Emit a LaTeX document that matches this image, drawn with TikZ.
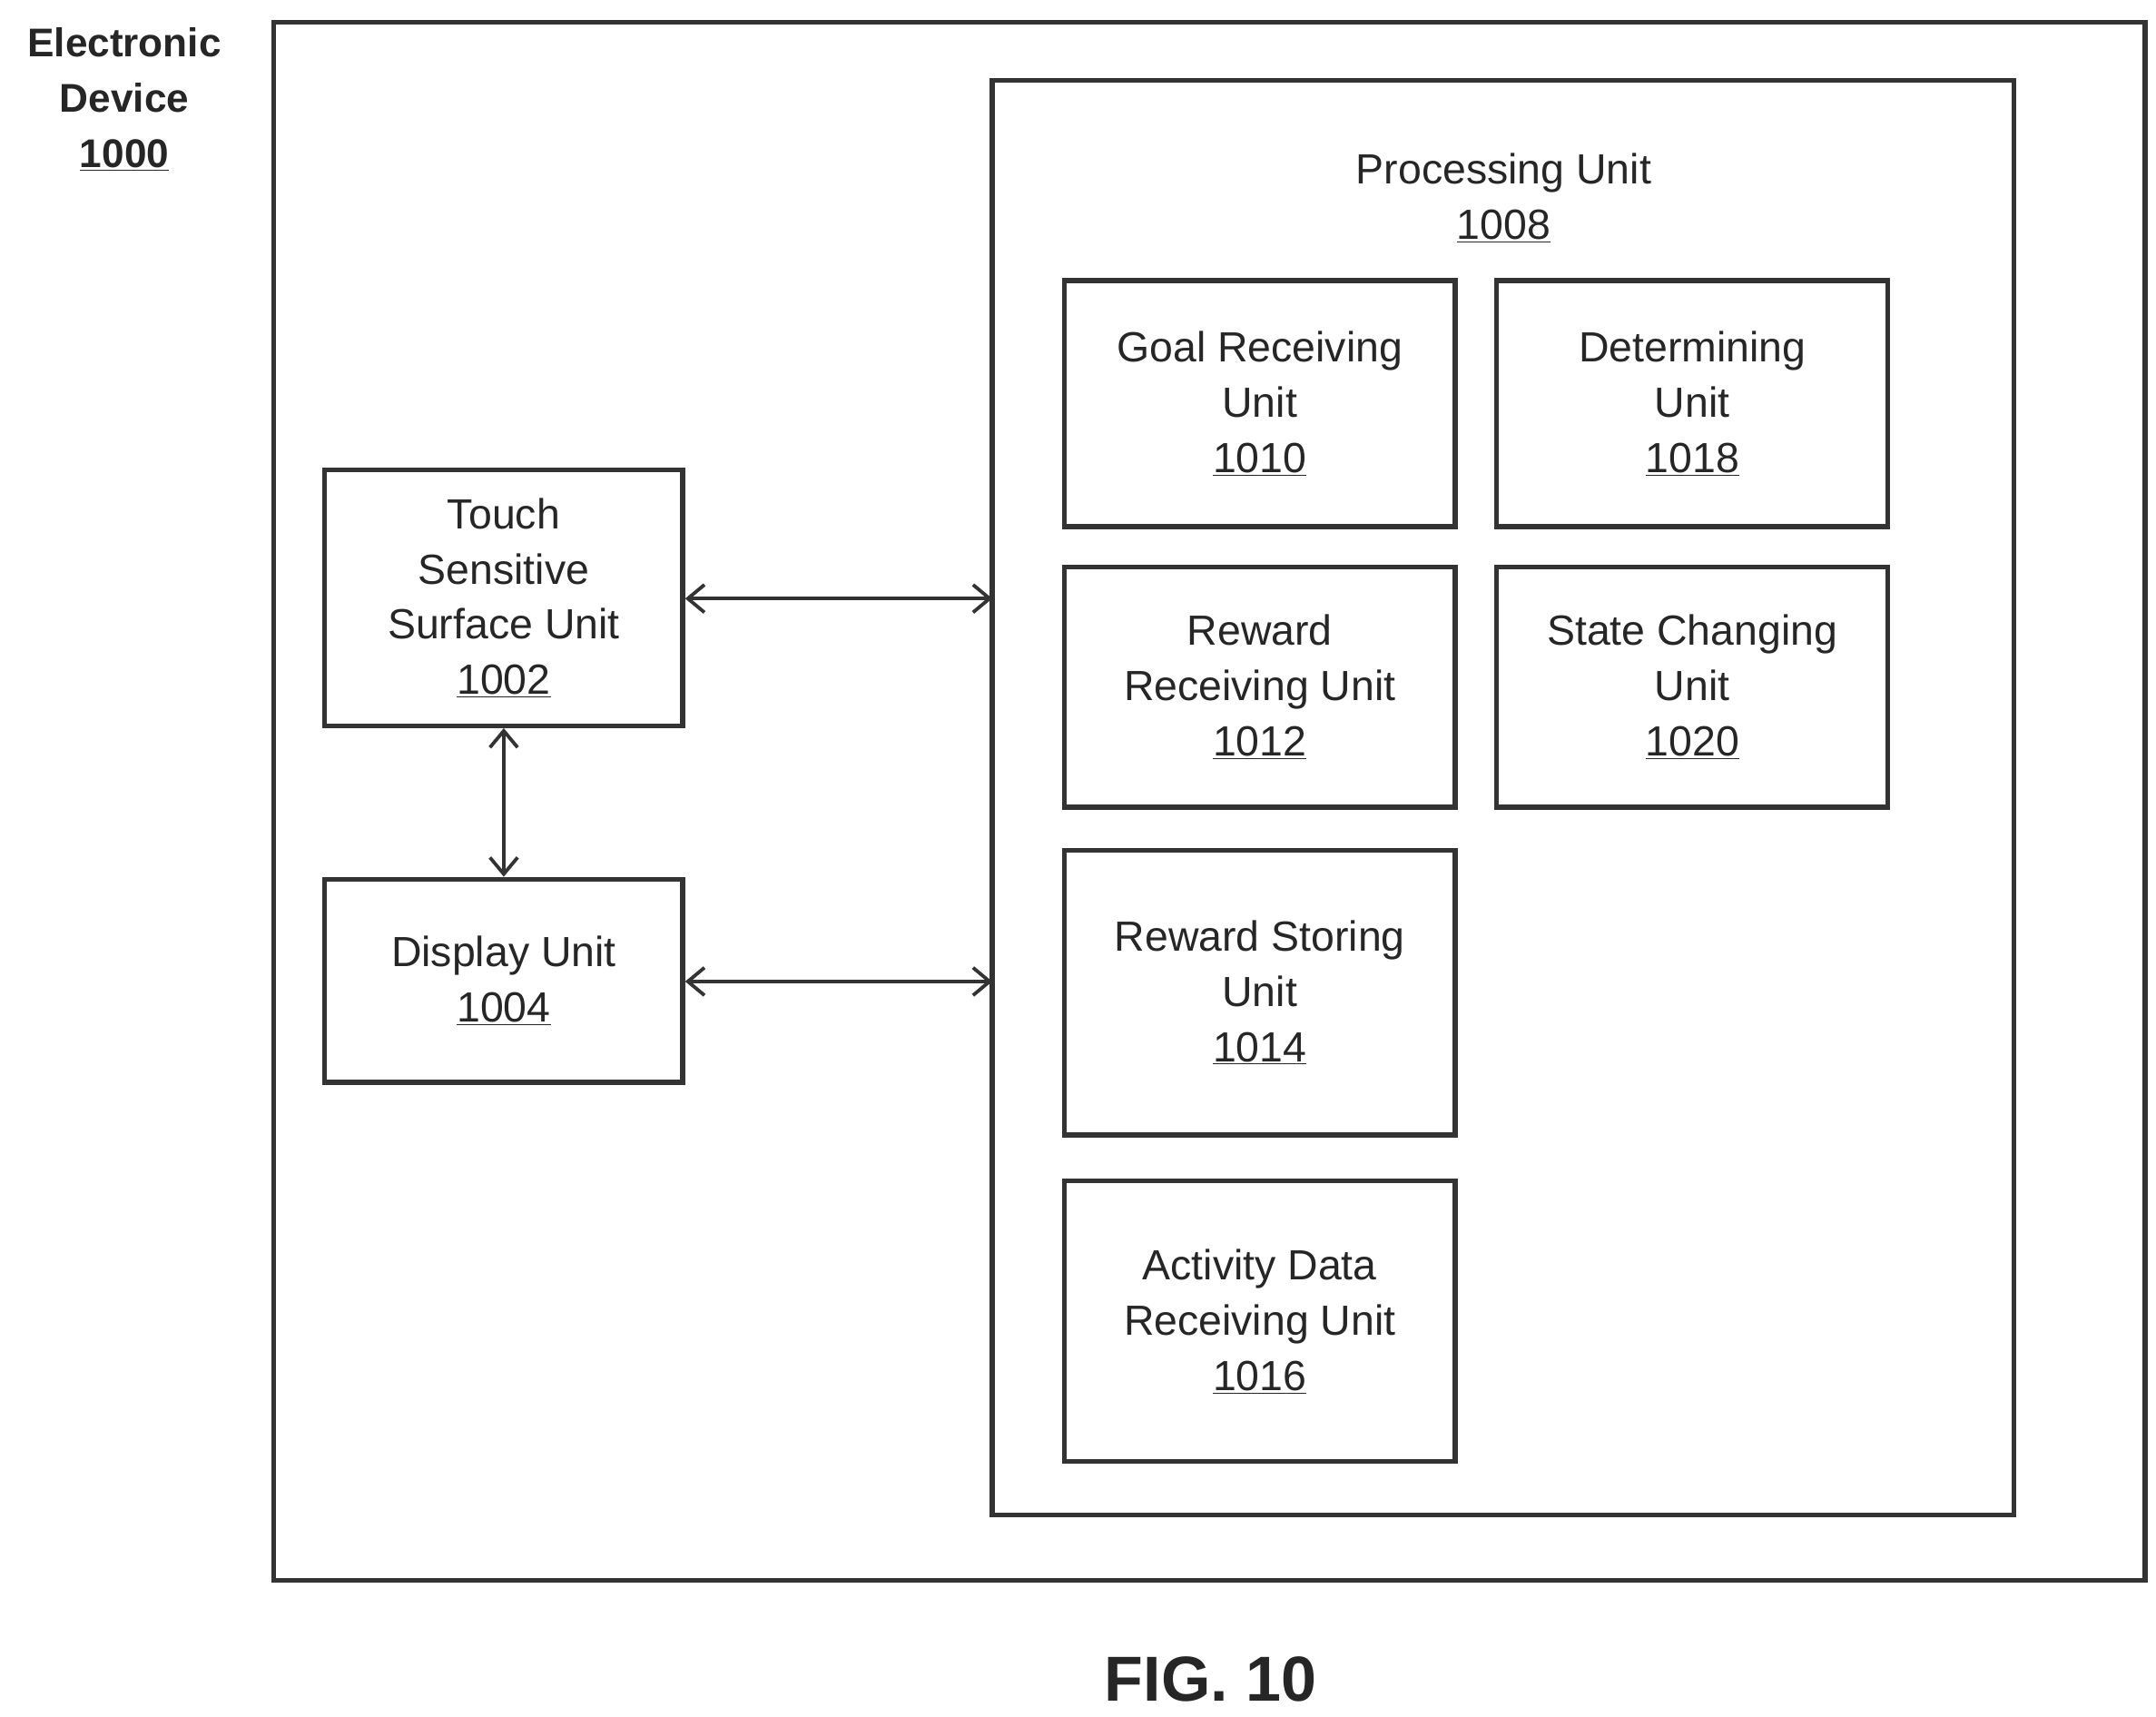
\documentclass[tikz,border=0pt]{standalone}
\usepackage{fontspec}
\setmainfont{Liberation Sans}
\begin{document}
\begin{tikzpicture}[x=1pt,y=-1pt,
  bx/.style={draw=black!80,line width=3.5pt},
  lab/.style={font=\fontsize{30.5}{40}\selectfont,align=center,text=black!85},
  arr/.style={draw=black!80,line width=2.5pt,<->,>={Straight Barb[length=12pt,width=20pt]}}]
\usetikzlibrary{arrows.meta}
\useasboundingbox (0,0) rectangle (1560,1242);
\draw[bx] (198,16) rectangle (1552,1143);
\node[lab,font=\bfseries\fontsize{29}{40}\selectfont] (ed) at (90,72) {Electronic\\Device\\\underline{1000}};
\draw[bx] (718,58) rectangle (1457,1096);
\coordinate (pl1) at (718,433); \coordinate (pl2) at (718,710);
\node[lab] (pu) at (1088,143) {Processing Unit\\\underline{1008}};
\draw[bx] (770,203) rectangle (1053,381); \node[lab] (g) at (911.5,292) {Goal Receiving\\Unit\\\underline{1010}};
\draw[bx] (1083,203) rectangle (1366,381); \node[lab] (d) at (1224.5,292) {Determining\\Unit\\\underline{1018}};
\draw[bx] (770,410) rectangle (1053,584); \node[lab] (rr) at (911.5,497) {Reward\\Receiving Unit\\\underline{1012}};
\draw[bx] (1083,410) rectangle (1366,584); \node[lab] (sc) at (1224.5,497) {State Changing\\Unit\\\underline{1020}};
\draw[bx] (770,615) rectangle (1053,821); \node[lab] (rs) at (911.5,718) {Reward Storing\\Unit\\\underline{1014}};
\draw[bx] (770,854) rectangle (1053,1057); \node[lab] (ad) at (911.5,956) {Activity Data\\Receiving Unit\\\underline{1016}};
\node[bx,minimum width=259pt,minimum height=185pt,inner sep=0pt] (t) at (364.5,432.5) {};
\node[lab] at (t) {Touch\\Sensitive\\Surface Unit\\\underline{1002}};
\node[bx,minimum width=259pt,minimum height=147pt,inner sep=0pt] (dp) at (364.5,709.5) {};
\node[lab] at (dp) {Display Unit\\\underline{1004}};
\draw[arr] (t.east |- pl1) -- (pl1);
\draw[arr] (dp.east |- pl2) -- (pl2);
\draw[arr] (t.south) -- (dp.north);
\node[font=\bfseries\fontsize{46}{50}\selectfont,text=black!85] (fig) at (876,1215) {FIG. 10};
\end{tikzpicture}
\end{document}
